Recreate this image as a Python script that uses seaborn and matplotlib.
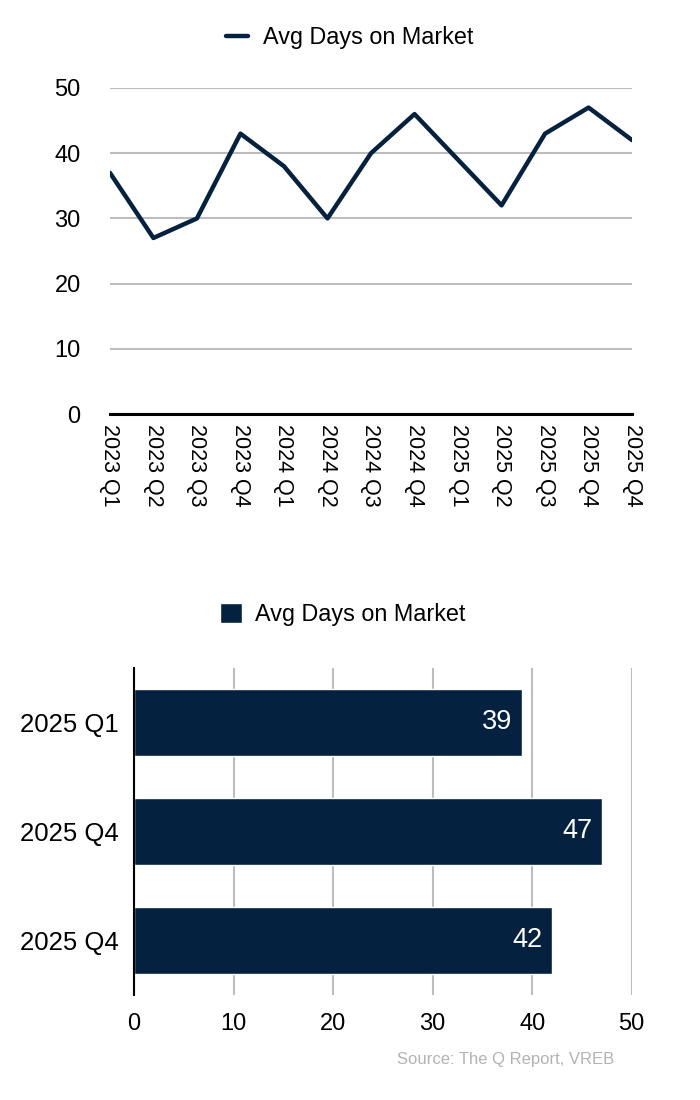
import pandas as pd
import matplotlib.pyplot as plt
import seaborn as sns

NAVY = "#04223f"
GRID = "#bdbdbd"

quarters = ["2023 Q1", "2023 Q2", "2023 Q3", "2023 Q4",
            "2024 Q1", "2024 Q2", "2024 Q3", "2024 Q4",
            "2025 Q1", "2025 Q2", "2025 Q3", "2025 Q4", "2025 Q4"]
days = [37, 27, 30, 43, 38, 30, 40, 46, 39, 32, 43, 47, 42]

bar_labels = ["2025 Q1", "2025 Q4", "2025 Q4"]
bar_days = [39, 47, 42]

series_name = "Avg Days on Market"


def plot_line(fig):
    ax = fig.add_axes([0.157, 0.6236, 0.746, 0.2964])
    df = pd.DataFrame({"pos": range(len(quarters)), "days": days})
    sns.lineplot(data=df, x="pos", y="days", color=NAVY, linewidth=3.2,
                 label=series_name, ax=ax, legend=False)
    ax.set_xlim(0, len(quarters) - 1)
    ax.set_ylim(0, 50)
    ax.set_yticks(range(0, 51, 10))
    ax.set_xticks(range(len(quarters)))
    ax.set_xticklabels(quarters, rotation=-90, fontsize=15.5)
    ax.tick_params(axis="y", labelsize=17, length=0, pad=21)
    ax.tick_params(axis="x", length=0, pad=7)
    ax.set_xlabel("")
    ax.set_ylabel("")
    ax.grid(axis="y", color=GRID, linewidth=1.5)
    ax.grid(axis="x", visible=False)
    for s in ["top", "right", "left"]:
        ax.spines[s].set_visible(False)
    ax.spines["bottom"].set_color("black")
    ax.spines["bottom"].set_linewidth(2.2)
    handles, labels = ax.get_legend_handles_labels()
    fig.legend(handles, labels, loc="center", bbox_to_anchor=(0.5, 0.9655),
               frameon=False, fontsize=16.8, handlelength=0.95,
               handletextpad=0.65)


def plot_bars(fig):
    ax = fig.add_axes([0.1914, 0.0955, 0.711, 0.2973])
    df = pd.DataFrame({"pos": range(len(bar_labels)), "days": bar_days})
    sns.barplot(data=df, x="days", y="pos", orient="h", color=NAVY,
                width=0.61, label=series_name, ax=ax, saturation=1)
    ax.set_yticks(range(len(bar_labels)))
    ax.set_yticklabels(bar_labels, fontsize=18.5)
    ax.set_ylim(2.5, -0.5)
    ax.set_xlim(0, 50)
    ax.set_xticks(range(0, 51, 10))
    ax.tick_params(axis="x", labelsize=17, length=0, pad=13)
    ax.tick_params(axis="y", length=0, pad=11)
    ax.set_xlabel("")
    ax.set_ylabel("")
    ax.grid(axis="x", color=GRID, linewidth=1.5)
    ax.grid(axis="y", visible=False)
    ax.set_axisbelow(True)
    for s in ["top", "right", "bottom"]:
        ax.spines[s].set_visible(False)
    ax.spines["left"].set_color("black")
    ax.spines["left"].set_linewidth(1.5)
    for container in ax.containers:
        texts = ax.bar_label(container, labels=[str(v) for v in bar_days],
                             padding=-7, color="white", fontsize=19.5)
        for t in texts:
            t.set_ha("right")
    handles, labels = ax.get_legend_handles_labels()
    if ax.get_legend():
        ax.get_legend().remove()
    fig.legend(handles, labels, loc="center", bbox_to_anchor=(0.49, 0.441),
               frameon=False, fontsize=16.8, handlelength=0.95,
               handleheight=0.95, handletextpad=0.55)


def main():
    sns.set_style("white")
    plt.rcParams["font.family"] = ["Liberation Sans", "DejaVu Sans"]
    plt.rcParams["text.color"] = "black"
    plt.rcParams["xtick.color"] = "black"
    plt.rcParams["ytick.color"] = "black"
    fig = plt.figure(figsize=(7, 11), dpi=100)
    plot_line(fig)
    plot_bars(fig)
    fig.text(0.878, 0.033, "Source: The Q Report, VREB", ha="right",
             color="#b3b3b3", fontsize=12)
    fig.savefig("out.png", dpi=100)
    plt.close(fig)


if __name__ == "__main__":
    main()
